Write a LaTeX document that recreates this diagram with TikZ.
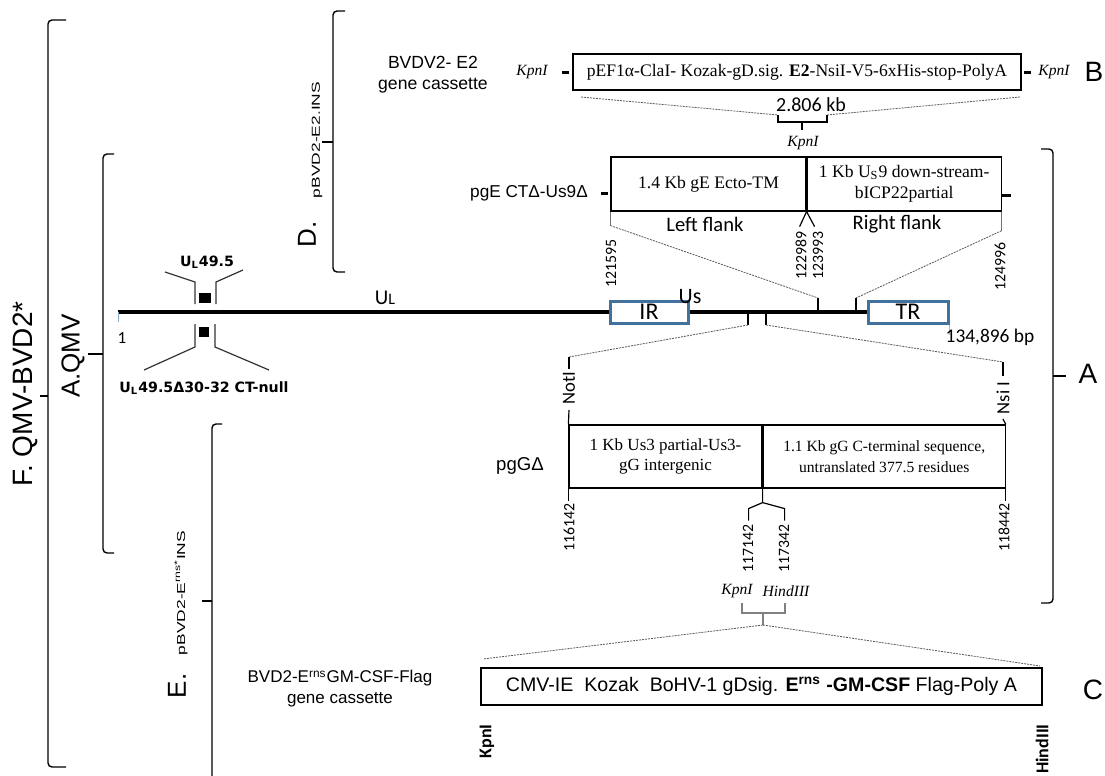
\documentclass[tikz,border=0pt]{standalone}
\usepackage{fontspec}
\setmainfont{Liberation Serif}
\setsansfont{Liberation Sans}
\newfontfamily\calib{Carlito}
\newfontfamily\verd{DejaVu Sans}
\newfontfamily\widesf[FakeStretch=1.5]{Liberation Sans}
\usetikzlibrary{positioning, calc}
\definecolor{regionblue}{RGB}{65,113,156}

\begin{document}
\begin{tikzpicture}[x=0.5pt, y=-0.5pt,
    every node/.style={inner sep=0pt},
    seg/.style={draw, line width=0.6pt, align=center, font=\fontsize{8.8}{10.4}\selectfont},
    region/.style={draw=regionblue, line width=1.5pt, minimum height=11pt, font=\calib\fontsize{12}{12}\selectfont},
    zoomline/.style={black!65, line width=0.4pt, dash pattern=on 1pt off 0.5pt},
    brace/.style={line width=0.7pt, rounded corners=2pt},
    site/.style={font=\itshape\fontsize{7.8}{8}\selectfont},
    posnum/.style={rotate=90, anchor=east, font=\calib\fontsize{7.9}{8}\selectfont},
    genome/.style={line width=1.6pt},
    tickline/.style={line width=0.6pt},
    stub/.style={line width=1.5pt},
    panel/.style={font=\sffamily\fontsize{14}{14}\selectfont},
    tagtext/.style={rotate=90, font=\sffamily\fontsize{13}{13}\selectfont},
    caption/.style={align=center, font=\sffamily\fontsize{8.8}{10.5}\selectfont},
  ]
\useasboundingbox (0,0) rectangle (1105,776);

% B: E2 cassette
\node[caption] (e2name) at (433,75) {BVDV2- E2\\gene cassette};
\node[seg, minimum width=224pt, minimum height=18pt] (e2box) at (797,72) {pEF1α-ClaI- Kozak-gD.sig. \textbf{E2}-NsiI-V5-6xHis-stop-PolyA};
\node[site] (e2kpnL) at (532,72) {KpnI};
\node[site] (e2kpnR) at (1054,72) {KpnI};
\draw[stub] ([xshift=-5pt]e2box.west) -- ([xshift=-1.5pt]e2box.west);
\draw[stub] ([xshift=1pt]e2box.east) -- ([xshift=4.5pt]e2box.east);
\node[panel] (panelB) at (1094,72) {B};
\coordinate (e2sw) at (581,97);
\coordinate (e2se) at (1020,97);
\coordinate (e2bl) at (778,115);
\coordinate (e2br) at (827,115);
\draw[zoomline] (e2sw) -- (e2bl);
\draw[zoomline] (e2se) -- (e2br);
\draw[tickline] (e2bl) -- (778,122) -- (827,122) -- (e2br);
\draw[tickline] (802,122) -- (802,130);
\node[font=\calib\fontsize{10}{10}\selectfont] (e2len) at (811,105) {2.806 kb};
\node[site] (e2site) at (803,143) {KpnI};

% pgE CT-Us9 deletion
\node[font=\sffamily\fontsize{8.6}{9}\selectfont] (pgE) at (529,193) {pgE CTΔ-Us9Δ};
\node[seg, minimum width=97.5pt, minimum height=27pt] (gEleft) at (708.5,184) {1.4 Kb gE Ecto-TM};
\node[seg, minimum width=97pt, minimum height=27pt, right=0pt of gEleft] (gEright) {1 Kb U\textsubscript{S}9 down-stream-\\bICP22partial};
\draw[stub] (601,193) -- (608,193);
\draw[stub] (1002,195) -- (1011,195);
\node[font=\calib\fontsize{10.3}{10.3}\selectfont] (lflank) at (705,224) {Left flank};
\node[font=\calib\fontsize{10.3}{10.3}\selectfont] (rflank) at (897,224) {Right flank};
\draw[tickline, black!55] (gEleft.south west) -- ++(0,14) coordinate (lfEnd);
\draw[tickline, black!55] (gEright.south east) -- ++(0,19) coordinate (rfEnd);
\draw[tickline] (gEleft.south east) -- ++(-7,15);
\draw[tickline] (gEleft.south east) -- ++(8,15);
\node[posnum] (p121595) at (611,239) {121595};
\node[posnum] (p122989) at (801,231) {122989};
\node[posnum] (p123993) at (818,231) {123993};
\node[posnum] (p124996) at (1000,242) {124996};

% genome
\node[region, minimum width=39pt] (IR) at (649,312) {IR};
\node[region, minimum width=40pt] (TR) at (908,312) {TR};
\coordinate (gStart) at (118,312);
\draw[genome] (gStart) -- (IR.west);
\draw[genome] (IR.east) -- (TR.west);
\draw[regionblue!60, line width=0.5pt] (gStart) -- ++(0,10);
\draw[regionblue!50, line width=0.5pt] (TR.south east) -- ++(0,10);
\node[font=\calib\fontsize{8.5}{8.5}\selectfont] (one) at (122,338) {1};
\node[font=\calib\fontsize{10.5}{10.5}\selectfont] (ULlab) at (385,298) {U{\fontsize{8}{8}\selectfont L}};
\node[font=\calib\fontsize{11}{11}\selectfont] (USlab) at (690,297) {Us};
\node[font=\calib\fontsize{9.7}{9.7}\selectfont] (gLen) at (990,337) {134,896 bp};
\coordinate (insE1) at (818,298);
\coordinate (insE2) at (856,298);
\coordinate (insG1) at (748,325);
\coordinate (insG2) at (766,325);
\draw[tickline] (insE1) -- (insE1 |- gStart);
\draw[tickline] (insE2) -- (insE2 |- gStart);
\draw[tickline] (insG1) -- (insG1 |- gStart);
\draw[tickline] (insG2) -- (insG2 |- gStart);
\draw[zoomline] (lfEnd) -- (insE1);
\draw[zoomline] (rfEnd) -- (insE2);

% UL49.5
\node[fill, minimum width=6pt, minimum height=5pt] (orf) at (205,298) {};
\node[fill, minimum width=5pt, minimum height=5pt] (orfDel) at (204,332) {};
\draw[tickline, black!80] (165,272) -- (195,282) -- (195,304);
\draw[tickline, black!80] (216,304) -- (216,282) -- (243,270);
\draw[tickline, black!80] (195,324) -- (195,347) -- (144,370);
\draw[tickline, black!80] (215,324) -- (215,347) -- (269,370);
\node[font=\verd\bfseries\fontsize{7.1}{7.1}\selectfont] (ul495) at (207,262) {U\textsubscript{L}49.5};
\node[font=\verd\bfseries\fontsize{7.1}{7.1}\selectfont] (ul495del) at (204,388) {U\textsubscript{L}49.5Δ30-32 CT-null};

% pgG deletion
\node[seg, minimum width=96.5pt, minimum height=31.5pt, font=\fontsize{8.5}{10.4}\selectfont] (gGleft) at (665.5,456.5) {1 Kb Us3 partial-Us3-\\gG intergenic};
\node[seg, minimum width=121pt, minimum height=31.5pt, right=0pt of gGleft, font=\fontsize{7.8}{10.4}\selectfont] (gGright) {1.1 Kb gG C-terminal sequence,\\untranslated 377.5 residues};
\node[font=\sffamily\fontsize{9.3}{9.3}\selectfont] (pgG) at (520,466) {pgGΔ};
\coordinate (notTop) at (569,357);
\coordinate (nsiTop) at (1003,362);
\draw[zoomline] (insG1) -- (notTop);
\draw[zoomline] (insG2) -- (nsiTop);
\node[rotate=90, font=\calib\fontsize{9.3}{9.3}\selectfont] (notI) at (569,388) {NotI};
\node[rotate=90, font=\calib\fontsize{9.3}{9.3}\selectfont] (nsiI) at (1003,398) {Nsi I};
\draw[tickline] (notTop) -- ++(0,12);
\draw[tickline] (569,410) -- (gGleft.north west);
\draw[tickline] (nsiTop) -- ++(0,14);
\draw[tickline] (1003,419) -- (gGright.north east);
\draw[tickline] (gGleft.south west) -- ++(0,12);
\draw[tickline] (gGright.south east) -- ++(0,12);
\node[posnum] (p116142) at (569,503) {116142};
\node[posnum] (p118442) at (1004,503) {118442};
\draw[tickline] (gGleft.south east) -- ++(0,14) coordinate (gGfork) -- ++(-14,6) -- ++(0,12);
\draw[tickline] (gGfork) -- ++(22,6) -- ++(0,12);
\node[posnum] (p117142) at (748,524) {117142};
\node[posnum] (p117342) at (784,524) {117342};
\node[site] (gGkpn) at (737,591) {KpnI};
\node[site] (gGhind) at (786,591) {HindIII};
\draw[tickline, black!50] (742,603) -- (742,613) -- (785,613) -- (785,603);
\draw[tickline, black!50] (763,613) -- (763,625) coordinate (cApex);
\coordinate (cLeft) at (483,659);
\coordinate (cRight) at (1040,666);
\draw[zoomline] (cApex) -- (cLeft);
\draw[zoomline] (cApex) -- (cRight);

% C: Erns GM-CSF cassette
\node[draw, line width=0.6pt, minimum width=280.5pt, minimum height=18.5pt, font=\sffamily\fontsize{9.8}{10}\selectfont] (cmvBox) at (761.5,686.5) {CMV-IE\ \ Kozak\ \ BoHV-1 gDsig. \textbf{E\textsuperscript{rns} -GM-CSF} Flag-Poly A};
\node[panel] (panelC) at (1093,690) {C};
\node[caption, font=\sffamily\fontsize{8.5}{10.5}\selectfont] (cName) at (340,689) {BVD2-E\textsuperscript{rns}GM-CSF-Flag\\gene cassette};
\node[posnum, font=\calib\bfseries\fontsize{9}{9}\selectfont] (cKpn) at (487,724) {KpnI};
\node[posnum, font=\calib\bfseries\fontsize{9}{9}\selectfont] (cHind) at (1042,724) {HindIII};

% brackets
\draw[brace] (66,20) -- (48,20) -- (48,767) -- (66,767);
\draw[brace] (48,396) -- (40,396);
\node[tagtext, font=\sffamily\fontsize{14}{14}\selectfont] (tagF) at (25,394) {F. QMV-BVD2*};
\draw[brace] (114,154) -- (103,154) -- (103,553) -- (114,553);
\draw[brace] (103,354) -- (88,354);
\node[tagtext] (tagA) at (73,356) {A.QMV};
\draw[brace] (345,11) -- (333,11) -- (333,272) -- (345,272);
\draw[brace] (333,142) -- (322,142);
\node[tagtext] (tagD) at (307,234) {D.};
\node[rotate=90, font=\widesf\fontsize{5.8}{6}\selectfont] (nameD) at (317,140) {pBVD2-E2.INS};
\draw[brace] (222,424) -- (212,424) -- (212,790);
\draw[brace] (212,601) -- (202,601);
\node[tagtext] (tagE) at (177,686) {E.};
\node[rotate=90, font=\widesf\fontsize{5.8}{6}\selectfont] (nameE) at (181,593) {pBVD2-E\textsuperscript{rns*}INS};
\draw[brace] (1041,149) -- (1053,149) -- (1053,603) -- (1041,603);
\draw[brace] (1053,376) -- (1066,376);
\node[panel] (panelA) at (1088,374) {A};
\end{tikzpicture}
\end{document}
